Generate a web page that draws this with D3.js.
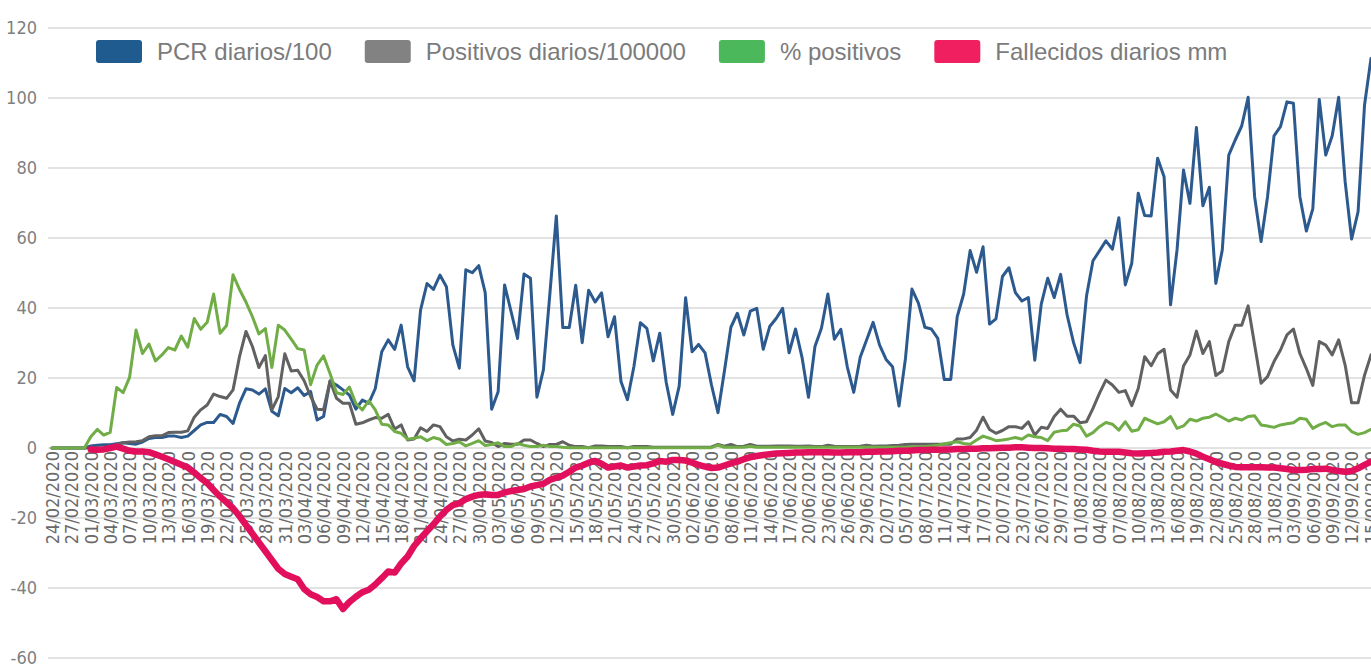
<!DOCTYPE html>
<html>
<head>
<meta charset="utf-8">
<script src="https://cdn.jsdelivr.net/npm/d3@7"></script>
<style>
  body { margin: 0; background: #fff; }
  svg { display: block; }
</style>
</head>
<body>
<div id="chart"></div>
<script>
// daily categories, 24/02/2020 .. 15/09/2020
const startDate = new Date(2020, 1, 24);
const endDate = new Date(2020, 8, 15);
const days = d3.timeDay.range(startDate, d3.timeDay.offset(endDate, 1));

const yTicks = [-60, -40, -20, 0, 20, 40, 60, 80, 100, 120];
const seriesNames = ['PCR diarios/100', 'Positivos diarios/100000', '% positivos', 'Fallecidos diarios mm'];

const pcr = [
  0, 0, 0, 0, 0, 0, 0.6, 0.8, 0.9, 0.9,
  1.2, 1.5, 1.3, 1.1, 1.7, 2.7, 3, 3, 3.4, 3.4,
  3, 3.4, 5, 6.6, 7.3, 7.3, 9.6, 9, 7, 12.8,
  16.9, 16.6, 15.4, 16.9, 10.5, 9.2, 17, 15.8, 17.2, 15,
  16.1, 8, 9, 19, 18, 16.6, 15.1, 11.1, 13.7, 12.8,
  17, 27.5, 30.9, 28.2, 35.1, 23.2, 19.2, 39.4, 47, 45.3,
  49.4, 46.1, 29.4, 22.8, 50.9, 50.1, 52.1, 44.4, 11.1, 16.1,
  46.6, 39, 31.3, 49.7, 48.5, 14.5, 22.3, 44, 66.3, 34.4,
  34.4, 46.5, 30.1, 45.1, 41.7, 44.3, 31.8, 37.5, 19, 13.8,
  23.3, 35.8, 34.2, 24.9, 32.8, 18.7, 9.6, 17.7, 42.9, 27.5,
  29.6, 27.2, 18, 10.1, 22, 34.5, 38.5, 32.3, 39.1, 39.9,
  28.2, 34.7, 37, 39.9, 27.2, 34, 25.9, 14.5, 29, 34.2,
  44, 31.1, 33.9, 23.2, 15.9, 25.9, 30.9, 35.9, 29.4, 25.3,
  23.2, 12, 25.6, 45.4, 41.4, 34.5, 34, 31.3, 19.6, 19.6,
  37.5, 44, 56.4, 50.2, 57.5, 35.4, 36.9, 49, 51.5, 44.4,
  42, 43, 25.1, 41.1, 48.5, 43, 49.6, 38, 30.1, 24.4,
  43.4, 53.5, 56.3, 59.2, 56.8, 65.8, 46.6, 52.8, 72.8, 66.4,
  66.3, 82.8, 77.5, 40.9, 56.6, 79.4, 69.9, 91.6, 69.2, 74.5,
  47, 56.6, 83.7, 88, 92, 100.2, 71.8, 59, 71.8, 89.2,
  91.8, 98.9, 98.5, 71.8, 62, 68.3, 99.6, 83.7, 89.2, 100.2,
  76.1, 59.7, 67.5, 98, 111.3
];

const positivos = [
  0, 0, 0, 0, 0, 0, 0, 0, 0, 0.4,
  1, 1.5, 1.7, 1.8, 2.1, 3.2, 3.5, 3.5, 4.4, 4.5,
  4.5, 4.9, 8.8, 10.9, 12.3, 15.4, 14.7, 14.2, 16.6, 26.1,
  33.3, 29, 23, 26.4, 10.9, 14.7, 26.9, 22, 22.2, 19.2,
  14.7, 11.1, 10.9, 19.2, 14.2, 12.8, 12.8, 6.8, 7.2, 8,
  8.7, 8.5, 9.6, 5.4, 6.6, 2.3, 2.6, 5.8, 4.7, 6.6,
  6.1, 3.2, 2, 2.5, 2.3, 3.7, 5.5, 2, 1.6, 0.4,
  1.3, 1.1, 1.1, 2.3, 2.3, 1.3, 0.4, 1, 1, 1.8,
  0.8, 0.4, 0.4, 0.1, 0.6, 0.6, 0.4, 0.4, 0.4, 0.1,
  0.4, 0.4, 0.4, 0.2, 0.2, 0.2, 0.2, 0.2, 0.2, 0.2,
  0.2, 0.2, 0.3, 1, 0.5, 1, 0.4, 0.5, 1, 0.5,
  0.5, 0.5, 0.6, 0.6, 0.6, 0.5, 0.5, 0.6, 0.4, 0.4,
  0.8, 0.5, 0.4, 0.4, 0.4, 0.5, 0.8, 0.5, 0.6, 0.6,
  0.7, 0.8, 1, 1.1, 1.1, 1.1, 1.1, 1.1, 1.1, 1.1,
  2.6, 2.6, 3, 5.1, 8.8, 5.3, 4.2, 5, 6.1, 6.1,
  5.6, 7.5, 3.7, 5.9, 5.6, 9, 11.1, 9.1, 9.1, 7.2,
  7.5, 11.3, 15.6, 19.4, 18, 15.9, 16.4, 12.1, 17, 26.1,
  23.5, 26.9, 28.2, 16.6, 14.5, 23.4, 26.6, 33.4, 27, 30.4,
  20.7, 22, 30.4, 35.1, 35.1, 40.6, 29.5, 18.5, 20.4, 24.7,
  28, 32.3, 34, 27, 22.7, 17.9, 30.4, 29.4, 26.6, 30.9,
  23.7, 12.9, 12.9, 20.8, 26.6
];

const pctPositivos = [
  0, 0, 0, 0, 0, 0, 3.2, 5.3, 3.7, 4.5,
  17.3, 15.8, 20.2, 33.7, 27, 29.7, 24.9, 26.6, 28.7, 28,
  32, 28.8, 37, 33.9, 35.9, 44, 32.8, 35, 49.5, 45.3,
  41.7, 37.5, 32.6, 34.1, 23, 35.1, 33.7, 31.1, 28.4, 28,
  18.1, 23.7, 26.3, 21.3, 15.8, 15.3, 17.4, 12.7, 10.9, 13.5,
  10.9, 6.8, 6.6, 4.7, 4.2, 2.5, 2.8, 3.2, 2.1, 3,
  2.5, 1, 1.3, 1.8, 0.6, 1.3, 2.1, 0.7, 1, 1.5,
  0.4, 0.4, 1.3, 0.8, 0.4, 0.4, 0.8, 0.4, 0.4, 0.2,
  0.1, 0.1, 0.1, 0.1, 0.1, 0.1, 0.1, 0.1, 0.1, 0.1,
  0.1, 0.1, 0.1, 0.1, 0.1, 0.1, 0.1, 0.1, 0.1, 0.1,
  0.1, 0.1, 0.1, 0.8, 0.2, 0.2, 0.2, 0.2, 0.5, 0.2,
  0.2, 0.2, 0.2, 0.2, 0.2, 0.2, 0.2, 0.2, 0.2, 0.2,
  0.2, 0.2, 0.2, 0.2, 0.2, 0.2, 0.2, 0.2, 0.2, 0.2,
  0.2, 0.2, 0.2, 0.3, 0.3, 0.4, 0.6, 0.8, 1.2, 1.5,
  1.8, 1.3, 1.1, 2.3, 3.4, 2.8, 2.1, 2.3, 2.6, 3,
  2.5, 3.7, 3.2, 3, 2.1, 4.5, 4.9, 5.1, 6.8, 6.3,
  3.4, 4.4, 6.1, 7.3, 6.8, 5.1, 7.5, 4.8, 5.2, 8.5,
  7.7, 6.9, 7.5, 9, 5.6, 6.3, 8.2, 7.7, 8.5, 8.8,
  9.7, 8.7, 7.7, 8.5, 8, 9, 9.2, 6.6, 6.3, 5.9,
  6.6, 6.9, 7.2, 8.5, 8.2, 5.6, 6.6, 7.3, 6.1, 6.6,
  6.6, 4.7, 3.9, 4.4, 5.3
];

const fallecidos = [
  null, null, null, null, null, null, -0.4, -0.5, -0.4, 0,
  0.4, -0.2, -0.8, -1, -1, -1.2, -1.8, -2.5, -3.2, -4,
  -4.8, -5.6, -7, -8.6, -10, -12, -13.9, -15.5, -17.2, -19.5,
  -22, -24.5, -27, -29.5, -32, -34.5, -36, -36.8, -37.5, -40.3,
  -41.8, -42.6, -43.8, -43.8, -43.2, -46, -44, -42.5, -41.2, -40.5,
  -39, -37.2, -35.3, -35.6, -33, -31, -28, -25.8, -23.8, -21.8,
  -19.6, -17.7, -16.3, -15.8, -14.6, -13.9, -13.4, -13.2, -13.4, -13.4,
  -12.7, -12.3, -12, -11.7, -11, -10.6, -10.2, -9.1, -8.5, -7.9,
  -6.8, -5.6, -5, -4.2, -3.7, -4.5, -5.6, -5.3, -5, -5.6,
  -5.3, -5, -4.9, -4.4, -3.7, -3.9, -3.4, -3.4, -3.6, -4.2,
  -4.8, -5.3, -5.7, -5.6, -5, -4.4, -3.9, -3.2, -2.6, -2.3,
  -2, -1.8, -1.6, -1.5, -1.4, -1.3, -1.3, -1.2, -1.2, -1.2,
  -1.2, -1.3, -1.3, -1.2, -1.2, -1.2, -1.1, -1.1, -1, -1,
  -0.9, -0.8, -0.8, -0.7, -0.6, -0.6, -0.5, -0.5, -0.4, -0.4,
  -0.3, -0.3, -0.2, -0.2, -0.1, -0.1, 0, 0.1, 0.1, 0.2,
  0.2, 0.1, 0, 0, -0.1, -0.2, -0.2, -0.3, -0.3, -0.4,
  -0.5, -0.8, -1, -1.1, -1.1, -1.1, -1.3, -1.5, -1.6, -1.5,
  -1.4, -1.3, -1.1, -1, -0.8, -0.6, -1, -1.6, -2.5, -3.2,
  -4, -4.5, -5, -5.4, -5.5, -5.5, -5.5, -5.5, -5.6, -5.6,
  -5.8, -6, -6.3, -6.3, -6.2, -6, -6, -5.9, -6.3, -6.6,
  -6.8, -6.6, -5.8, -4.8, -3.9
];

const width = 1371;
const height = 664;

const svg = d3.select('#chart')
  .append('svg')
  .attr('width', width)
  .attr('height', height)
  .style('background', '#fff');

const x = d3.scaleTime()
  .domain([startDate, endDate])
  .range([52, 1371]);

const y = d3.scaleLinear()
  .domain([-60, 120])
  .range([658, 28]);

const narrow = "'Liberation Sans Narrow', 'DejaVu Sans Condensed', sans-serif";

// horizontal gridlines
svg.append('g')
  .selectAll('line')
  .data(yTicks)
  .join('line')
  .attr('x1', 48)
  .attr('x2', width)
  .attr('y1', d => y(d))
  .attr('y2', d => y(d))
  .attr('stroke', '#d9d9d9')
  .attr('stroke-width', 1.5);

// y axis labels (plain hyphen like the original)
const yAxis = svg.append('g')
  .attr('transform', 'translate(37,0)')
  .call(d3.axisLeft(y).tickValues(yTicks).tickFormat(d => String(d)).tickSize(0).tickPadding(0));
yAxis.select('.domain').remove();
yAxis.selectAll('text')
  .attr('fill', '#7f7f7f')
  .style('font-family', narrow)
  .style('font-size', '18px');

// x axis labels, one every 3 days, rotated and hanging under the zero line
const xTickDates = days.filter((d, i) => i % 3 === 0);
const fmt = d3.timeFormat('%d/%m/%Y');
const xAxis = svg.append('g')
  .attr('transform', `translate(0,${y(0) + 3})`)
  .call(d3.axisBottom(x).tickValues(xTickDates).tickFormat(fmt).tickSize(0).tickPadding(0));
xAxis.select('.domain').remove();
xAxis.selectAll('text')
  .attr('transform', 'rotate(-90)')
  .attr('text-anchor', 'end')
  .attr('x', 0)
  .attr('y', 0)
  .attr('dy', '0.35em')
  .attr('fill', '#6a6a6a')
  .style('font-family', narrow)
  .style('font-size', '18px');

// series lines
const series = [
  { values: pcr, color: '#2c5a8e', width: 3 },
  { values: positivos, color: '#616161', width: 3 },
  { values: pctPositivos, color: '#70ad47', width: 3 },
  { values: fallecidos, color: '#e2105c', width: 6.5 }
];

const line = d3.line()
  .defined(d => d.v !== null)
  .x(d => x(d.date))
  .y(d => y(d.v));

series.forEach(s => {
  const pts = days.map((date, i) => ({ date: date, v: s.values[i] }));
  svg.append('path')
    .datum(pts)
    .attr('fill', 'none')
    .attr('stroke', s.color)
    .attr('stroke-width', s.width)
    .attr('stroke-linejoin', 'round')
    .attr('stroke-linecap', 'round')
    .attr('d', line);
});

// legend
const legendColors = ['#1f5b8f', '#828282', '#4cb85c', '#f02060'];
const legend = svg.append('g');
let lx = 96;
seriesNames.forEach((name, i) => {
  legend.append('rect')
    .attr('x', lx)
    .attr('y', 40)
    .attr('width', 46)
    .attr('height', 23)
    .attr('rx', 3)
    .attr('fill', legendColors[i]);
  const t = legend.append('text')
    .attr('x', lx + 61)
    .attr('y', 60)
    .attr('fill', '#7b7b7b')
    .style('font-family', "'Liberation Sans', Arial, sans-serif")
    .style('font-size', '24px')
    .text(name);
  lx += 61 + t.node().getComputedTextLength() + 33;
});
</script>
</body>
</html>
